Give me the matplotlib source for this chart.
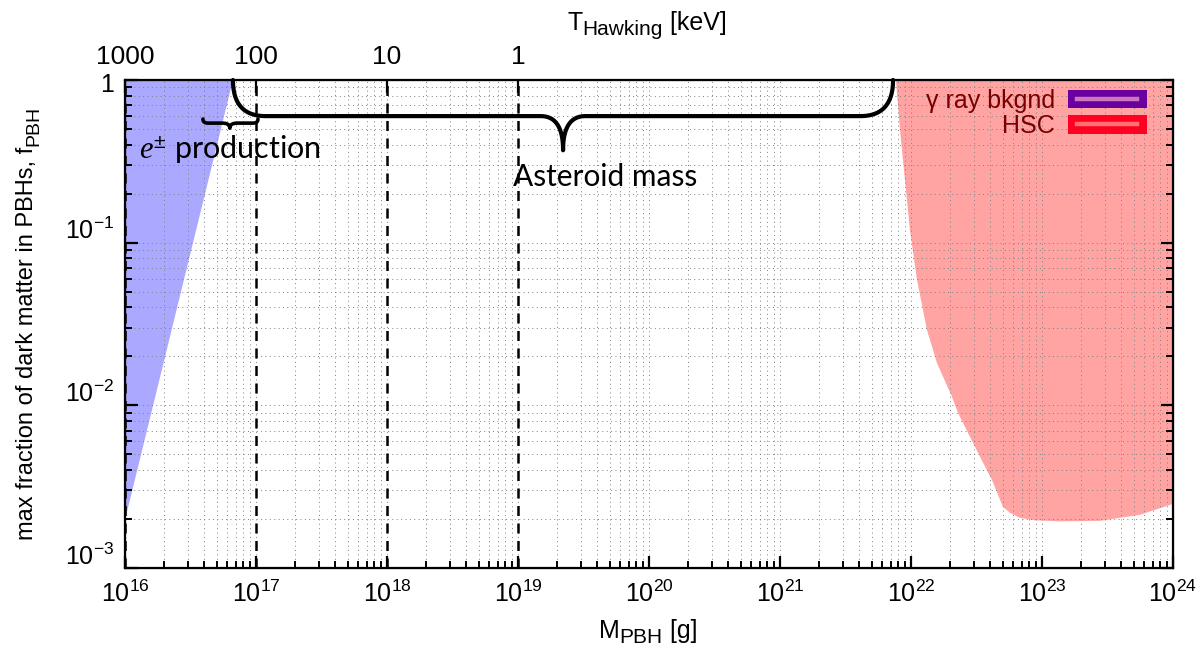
import numpy as np
import matplotlib
matplotlib.use("Agg")
import matplotlib.pyplot as plt
from matplotlib.patches import Rectangle
from matplotlib.lines import Line2D
from matplotlib.legend_handler import HandlerBase
from matplotlib.transforms import IdentityTransform, ScaledTranslation
import matplotlib.ticker as mticker

plt.rcParams['font.family'] = ['Liberation Sans', 'DejaVu Sans']
plt.rcParams['mathtext.fontset'] = 'custom'
plt.rcParams['mathtext.rm'] = 'Liberation Sans'
plt.rcParams['mathtext.it'] = 'Liberation Serif:italic'

# ---- data ----
# gamma-ray background constraint (log10 M, log10 f)
gamma_logM = [16.0, 16.824]
gamma_logf = [-2.705, 0.0]
# HSC microlensing constraint boundary (log10 M, log10 f)
hsc_logM = [21.885, 21.916, 21.954, 21.992, 22.046, 22.122, 22.198, 22.313, 22.359,
            22.489, 22.618, 22.702, 22.756, 22.832, 22.947, 23.138, 23.443, 23.748, 24.0]
hsc_logf = [0.0, -0.307, -0.615, -0.922, -1.229, -1.537, -1.739, -1.948, -2.047,
            -2.256, -2.459, -2.624, -2.661, -2.692, -2.707, -2.713, -2.710, -2.673, -2.606]
# dashed reference masses [g]
ref_masses = [1e16, 1e17, 1e18, 1e19]
# top axis Hawking temperatures [keV]; T = 1e19 keV g / M
T_ticks = [1000, 100, 10, 1]
T_labels = ['1000', '100', '10', '1']
y_ticks = [1e-3, 1e-2, 1e-1, 1]
y_labels = [r'$\mathregular{10^{-3}}$', r'$\mathregular{10^{-2}}$', r'$\mathregular{10^{-1}}$', '1']
x_ticks = [10.0**k for k in range(16, 25)]
x_labels = [r'$\mathregular{10^{%d}}$' % k for k in range(16, 25)]
legend_labels = ['γ ray bkgnd', 'HSC']
legend_colors = [('#6a00a0', '#cc77bb'), ('#ff0022', '#ff7070')]
# braces: (logM start, logM end, logM tip, log f top, depth, tip depth, end width, tip width)
asteroid_brace = (16.824, 21.863, 19.344, 0.0, 0.222, 0.21, 0.25, 0.17)
epm_brace = (16.595, 17.015, 16.80, -0.240, 0.025, 0.031, 0.04, 0.06)

fig = plt.figure(figsize=(12, 6.47), dpi=100)
ax = fig.add_axes([125/1200, 1-568/647, (1173-125)/1200, (568-80)/647])
ax.set_xscale('log')
ax.set_yscale('log')
ax.set_xlim(1e16, 1e24)
ax.set_ylim(1e-3, 1)

# fills
gx = 10.0**np.array(gamma_logM)
gy = 10.0**np.array(gamma_logf)
ax.fill(np.r_[gx, gx[0]], np.r_[gy, 1.0], color='#aba8ff', lw=0, zorder=1)
hx = 10.0**np.array(hsc_logM)
hy = 10.0**np.array(hsc_logf)
ax.fill(np.r_[hx, 1e24], np.r_[hy, 1.0], color='#ffa3a3', lw=0, zorder=1)

# grid
ax.grid(True, which='both', color='#808080', linestyle=(0, (1, 3.5)), lw=0.7, zorder=2)
ax.set_axisbelow(False)

for m in ref_masses:
    ax.axvline(m, color='black', ls=(0, (4, 3)), lw=1.8, zorder=3)

def qbez(p0, p1, p2, n=30):
    t = np.linspace(0, 1, n)[:, None]
    p0, p1, p2 = map(np.array, (p0, p1, p2))
    return (1-t)**2*p0 + 2*(1-t)*t*p1 + t**2*p2

def brace(b, lw):
    x0, x1, xm, y0, d, td, we, wt = b
    yb = y0 - d
    segs = [qbez((x0, y0), (x0, yb), (x0+we, yb)),
            np.array([(x0+we, yb), (xm-wt, yb)]),
            qbez((xm-wt, yb), (xm, yb), (xm, yb-td)),
            qbez((xm, yb-td), (xm, yb), (xm+wt, yb)),
            np.array([(xm+wt, yb), (x1-we, yb)]),
            qbez((x1-we, yb), (x1, yb), (x1, y0))]
    pts = np.vstack(segs)
    ax.plot(10.0**pts[:, 0], 10.0**pts[:, 1], color='black', lw=lw,
            solid_capstyle='round', solid_joinstyle='round', zorder=5, clip_on=False)

brace(asteroid_brace, 3.0)
brace(epm_brace, 2.6)

ax.text(10**16.11, 10**-0.43, r'$e^{\pm}$ production', family=['Lato', 'DejaVu Sans'],
        fontsize=22, ha='left', va='center', zorder=6)
ax.text(10**19.664, 10**-0.596, 'Asteroid mass', family=['Lato', 'DejaVu Sans'],
        fontsize=21.5, ha='center', va='center', zorder=6)

# ticks
ax.set_xticks(x_ticks)
ax.set_xticklabels(x_labels)
ax.set_yticks(y_ticks)
ax.set_yticklabels(y_labels)
ax.tick_params(which='major', direction='in', length=9, width=1.6, labelsize=18,
               top=False, right=True)
ax.tick_params(axis='x', which='major', pad=9)
ax.tick_params(axis='y', which='major', pad=8)
ax.tick_params(which='minor', direction='in', length=5, width=1.4, top=False, right=True)
ax.xaxis.set_minor_formatter(mticker.NullFormatter())
ax.yaxis.set_minor_formatter(mticker.NullFormatter())
for s in ax.spines.values():
    s.set_linewidth(1.6)
# gnuplot-style raised labels for exponent ticks
for tk, lab in zip(ax.yaxis.get_major_ticks(), y_labels):
    dy = -3 if lab == '1' else 14
    tk.label1.set_transform(tk.label1.get_transform() + ScaledTranslation(0, dy/100, fig.dpi_scale_trans))

top = ax.twiny()
top.set_xscale('log')
top.set_xlim(ax.get_xlim())
top.set_xticks([1e19 / t for t in T_ticks])
top.set_xticklabels(T_labels)
top.xaxis.set_minor_locator(mticker.NullLocator())
top.tick_params(which='major', direction='in', length=9, width=1.6, labelsize=19, pad=8)

# axis titles with gnuplot-like large subscripts
renderer = fig.canvas.get_renderer()
def sub_label(cx, cy, parts, rotation=0):
    texts, widths = [], []
    for s, size, dy in parts:
        t = fig.text(0, 0, s, fontsize=size, rotation=rotation, rotation_mode='anchor',
                     ha='left', va='baseline', transform=IdentityTransform())
        bb = t.get_window_extent(renderer)
        texts.append(t)
        widths.append(bb.width if rotation == 0 else bb.height)
    pos = -sum(widths) / 2
    for t, w, (s, size, dy) in zip(texts, widths, parts):
        if rotation == 0:
            t.set_position((cx + pos, cy - dy))
        else:
            t.set_position((cx + dy, cy + pos))
        pos += w

H = 647
sub_label(647, H - 30, [('T', 18, 0), ('Hawking', 15, 5), (' [keV]', 18, 0)])
sub_label(648, H - 638, [('M', 18, 0), ('PBH', 15, 5), (' [g]', 18, 0)])
sub_label(33, H - 323, [('max fraction of dark matter in PBHs, f', 17, 0), ('PBH', 14, 5)], rotation=90)

# legend
class SwatchHandler(HandlerBase):
    def create_artists(self, legend, orig, xd, yd, w, h, fontsize, trans):
        face, inner = orig
        r = Rectangle((-xd, -yd), w, h, facecolor=face, edgecolor='none', transform=trans)
        l = Line2D([-xd + 0.12*w, -xd + 0.88*w], [-yd + h/2]*2, color=inner, lw=3.2,
                   transform=trans)
        return [r, l]

leg = ax.legend(legend_colors, legend_labels, handler_map={tuple: SwatchHandler()},
                loc='upper right', frameon=False, markerfirst=False, fontsize=18,
                handlelength=3.16, handleheight=0.76, labelspacing=0.05, handletextpad=0.52,
                borderpad=0, borderaxespad=0, bbox_to_anchor=(0.975, 0.982))
for t in leg.get_texts():
    t.set_color('#7a0000')
leg.set_zorder(7)

fig.savefig('out.png', dpi=100)
